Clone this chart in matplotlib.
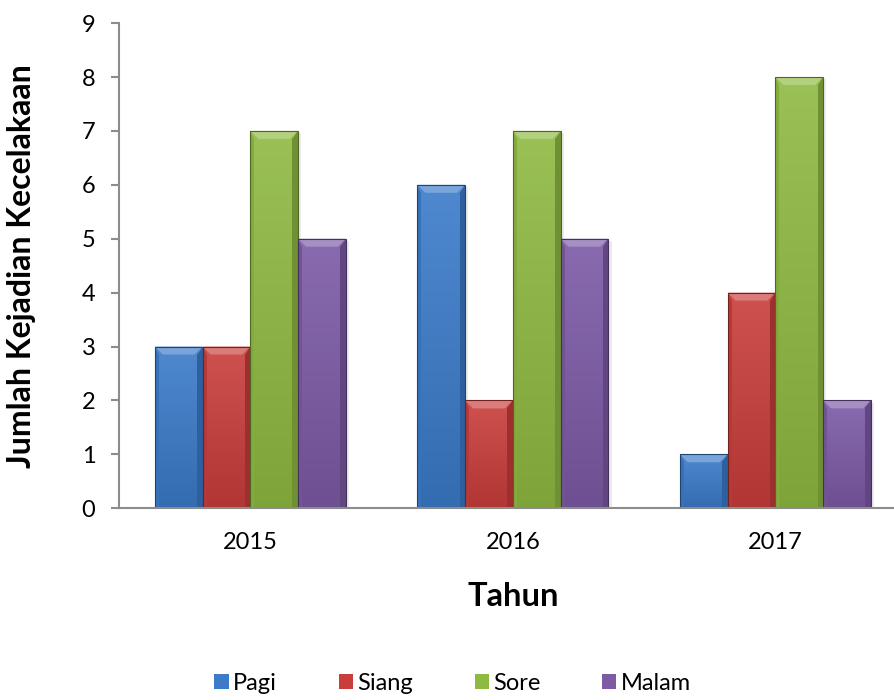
import numpy as np
import matplotlib.pyplot as plt
from matplotlib.patches import Polygon, Rectangle
from matplotlib.colors import to_rgb

plt.rcParams['font.family'] = ['Lato', 'DejaVu Sans']

years = ["2015", "2016", "2017"]
series = ["Pagi", "Siang", "Sore", "Malam"]
pagi = [3, 6, 1]
siang = [3, 2, 4]
sore = [7, 7, 8]
malam = [5, 5, 2]
values = [pagi, siang, sore, malam]
colors = ["#3b7bc9", "#c93e3b", "#8fba42", "#7c5aa6"]


def shade(c, f):
    r = np.array(to_rgb(c))
    if f >= 0:
        return tuple(r + (1 - r) * f)
    return tuple(r * (1 + f))


def bevel_bar(ax, patch, color, bx, by):
    # fake excel-style bevel on one bar
    x0, w, h = patch.get_x(), patch.get_width(), patch.get_height()
    x1 = x0 + w
    if h <= 0:
        return
    by = min(by, h / 2)
    # vertical gradient across the body
    grad = np.linspace(0, 1, 64).reshape(-1, 1)
    top, bot = np.array(shade(color, 0.1)), np.array(shade(color, -0.12))
    img = bot + (top - bot) * grad[..., None]
    im = ax.imshow(img, extent=(x0, x1, 0, h), origin="lower", aspect="auto",
                   zorder=2.1, interpolation="bilinear")
    im.set_clip_path(patch)
    # top face
    ax.add_patch(Polygon([(x0, h), (x1, h), (x1 - bx, h - by), (x0 + bx, h - by)],
                         closed=True, fc=shade(color, 0.32), ec="none", zorder=2.2))
    # right edge
    ax.add_patch(Polygon([(x1, h), (x1, 0), (x1 - bx * 0.7, 0), (x1 - bx * 0.7, h - by)],
                         closed=True, fc=shade(color, -0.22), ec="none", zorder=2.2))
    # left edge
    ax.add_patch(Polygon([(x0, h), (x0, 0), (x0 + bx * 0.5, 0), (x0 + bx * 0.5, h - by)],
                         closed=True, fc=shade(color, -0.08), ec="none", zorder=2.2))
    # outline
    ax.add_patch(Rectangle((x0, 0), w, h, fc="none", ec=shade(color, -0.45),
                           lw=0.8, zorder=2.3))
    # soft shadow on the right
    ax.add_patch(Rectangle((x1, 0), bx * 0.4, h - by * 0.3, fc="black", alpha=0.08,
                           ec="none", zorder=1.9))


fig = plt.figure(figsize=(8.95, 7.0), dpi=100)
ax = fig.add_axes([0.133, 0.274, 0.880, 0.693])

x = np.arange(len(years))
width = 1 / 5.5
offsets = (np.arange(len(series)) - 1.5) * width

containers = []
for vals, off, col, name in zip(values, offsets, colors, series):
    bars = ax.bar(x + off, vals, width, color=col, label=name, zorder=2)
    containers.append(bars)

ax.set_xlim(-0.5, len(years) - 0.5)
ax.set_ylim(0, 9)
ax.set_yticks(range(0, 10))

# bevel size in data units (about 8 px)
ax_w = 0.880 * 895
ax_h = 0.693 * 700
bx = 8 * (3 / ax_w)
by = 8 * (9 / ax_h)
for bars, col in zip(containers, colors):
    for p in bars.patches:
        bevel_bar(ax, p, col, bx, by)

ax.set_xticks(x)
ax.set_xticklabels(years)
for s in ["top", "right"]:
    ax.spines[s].set_visible(False)
for s in ["left", "bottom"]:
    ax.spines[s].set_color("#8c8c8c")
    ax.spines[s].set_linewidth(1.5)
ax.tick_params(axis="x", length=0, pad=17, labelsize=17)
ax.tick_params(axis="y", length=6, width=1.5, color="#8c8c8c", pad=11, labelsize=17)

ax.set_ylabel("Jumlah Kejadian Kecelakaan", fontsize=23, fontweight="bold")
ax.yaxis.set_label_coords(-0.105, 0.5)
ax.set_xlabel("Tahun", fontsize=23.5, fontweight="bold", va="top")
ax.xaxis.set_label_coords(0.5, -0.153)

leg = fig.legend(loc="lower center", bbox_to_anchor=(0.506, -0.022), ncol=4, frameon=False,
                 fontsize=17, handlelength=0.6, handleheight=0.6, handletextpad=0.2,
                 columnspacing=2.6)

fig.savefig("out.png", dpi=100)
